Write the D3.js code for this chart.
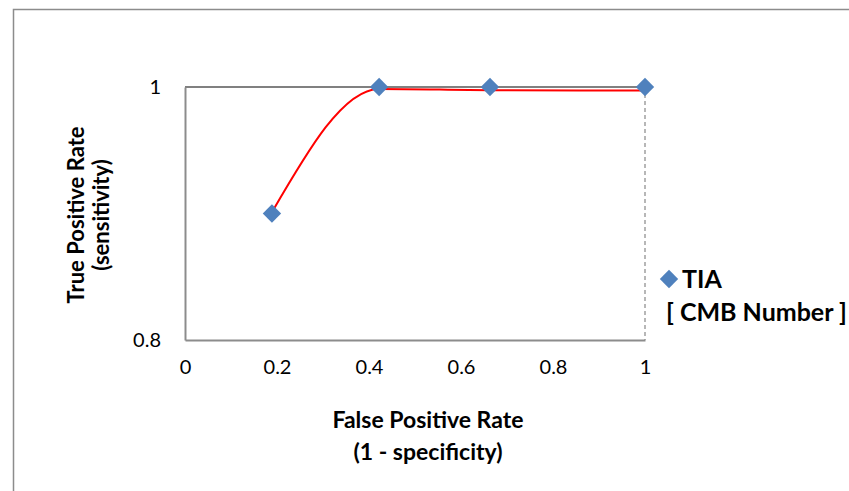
<html>
<head>
<script src="https://d3js.org/d3.v7.min.js"></script>
<style>
  body { margin: 0; background: #fff; }
  text { font-family: Lato, "Open Sans", sans-serif; fill: #000; }
</style>
</head>
<body>
<script>
// TIA points (false positive rate, true positive rate)
const fprValues = [0.189, 0.422, 0.663, 1.0];
const tprValues = [0.9, 1.0, 1.0, 1.0];
// smoothed red line drawn through slightly lower values
const lineFpr = [0.189, 0.422, 0.663, 0.995];
const lineTpr = [0.901, 0.9985, 0.9975, 0.9972];
const xTicks = [0, 0.2, 0.4, 0.6, 0.8, 1];
const yTicks = [0.8, 1];

const w = 849, h = 491;
const svg = d3.select("body").append("svg").attr("width", w).attr("height", h);

// outer chart frame
svg.append("rect").attr("x", 13.5).attr("y", 9.5).attr("width", 900).attr("height", 600)
  .attr("fill", "none").attr("stroke", "#8c8c8c").attr("stroke-width", 1.5);

const x = d3.scaleLinear().domain([0, 1]).range([185, 645]);
const y = d3.scaleLinear().domain([0.8, 1]).range([340, 87]);

// plot area borders
svg.append("line").attr("x1", x(0)).attr("x2", x(1)).attr("y1", y(1)).attr("y2", y(1))
  .attr("stroke", "#808080").attr("stroke-width", 2);
svg.append("line").attr("x1", x(1)).attr("x2", x(1)).attr("y1", y(1)).attr("y2", y(0.8))
  .attr("stroke", "#a0a0a0").attr("stroke-width", 1.5).attr("stroke-dasharray", "4,3");

const xAxis = d3.axisBottom(x).tickValues(xTicks).tickFormat(d3.format("")).tickSize(0).tickPadding(20);
const yAxis = d3.axisLeft(y).tickValues(yTicks).tickFormat(d3.format("")).tickSize(0).tickPadding(24);

const gx = svg.append("g").attr("transform", `translate(0,${y(0.8)})`).call(xAxis);
gx.select(".domain").attr("stroke", "#8c8c8c").attr("stroke-width", 2);
gx.selectAll("text").style("font-size", "20px");

const gy = svg.append("g").attr("transform", `translate(${x(0)},0)`).call(yAxis);
gy.select(".domain").attr("stroke", "#8c8c8c").attr("stroke-width", 2);
gy.selectAll("text").style("font-size", "20px");

// smoothed line
const lineData = lineFpr.map((f, i) => [f, lineTpr[i]]);
svg.append("path")
  .datum(lineData)
  .attr("d", d3.line().x(d => x(d[0])).y(d => y(d[1])).curve(d3.curveMonotoneX))
  .attr("fill", "none").attr("stroke", "#ff0000").attr("stroke-width", 2);

// points
const pts = fprValues.map((f, i) => [f, tprValues[i]]);
svg.selectAll("rect.pt").data(pts).enter().append("rect")
  .attr("class", "pt")
  .attr("x", -6.5).attr("y", -6.5).attr("width", 13).attr("height", 13)
  .attr("transform", d => `translate(${x(d[0])},${y(d[1])}) rotate(45)`)
  .attr("fill", "#4f81bd");

// axis titles
svg.append("text").attr("x", 428).attr("y", 428).attr("text-anchor", "middle")
  .style("font-size", "23px").style("font-weight", "bold").text("False Positive Rate");
svg.append("text").attr("x", 428).attr("y", 460).attr("text-anchor", "middle")
  .style("font-size", "23px").style("font-weight", "bold").text("(1 - specificity)");

svg.append("text").attr("transform", "translate(84,215) rotate(-90)").attr("text-anchor", "middle")
  .style("font-size", "22px").style("font-weight", "bold").text("True Positive Rate");
svg.append("text").attr("transform", "translate(109,215) rotate(-90)").attr("text-anchor", "middle")
  .style("font-size", "22px").style("font-weight", "bold").text("(sensitivity)");

// legend
svg.append("rect").attr("x", -6.5).attr("y", -6.5).attr("width", 13).attr("height", 13)
  .attr("transform", "translate(669,279) rotate(45)").attr("fill", "#4f81bd");
svg.append("text").attr("x", 682).attr("y", 288)
  .style("font-size", "25px").style("font-weight", "bold").text("TIA");
svg.append("text").attr("x", 666).attr("y", 321)
  .style("font-size", "25px").style("font-weight", "bold").text("[ CMB Number ]");
</script>
</body>
</html>
